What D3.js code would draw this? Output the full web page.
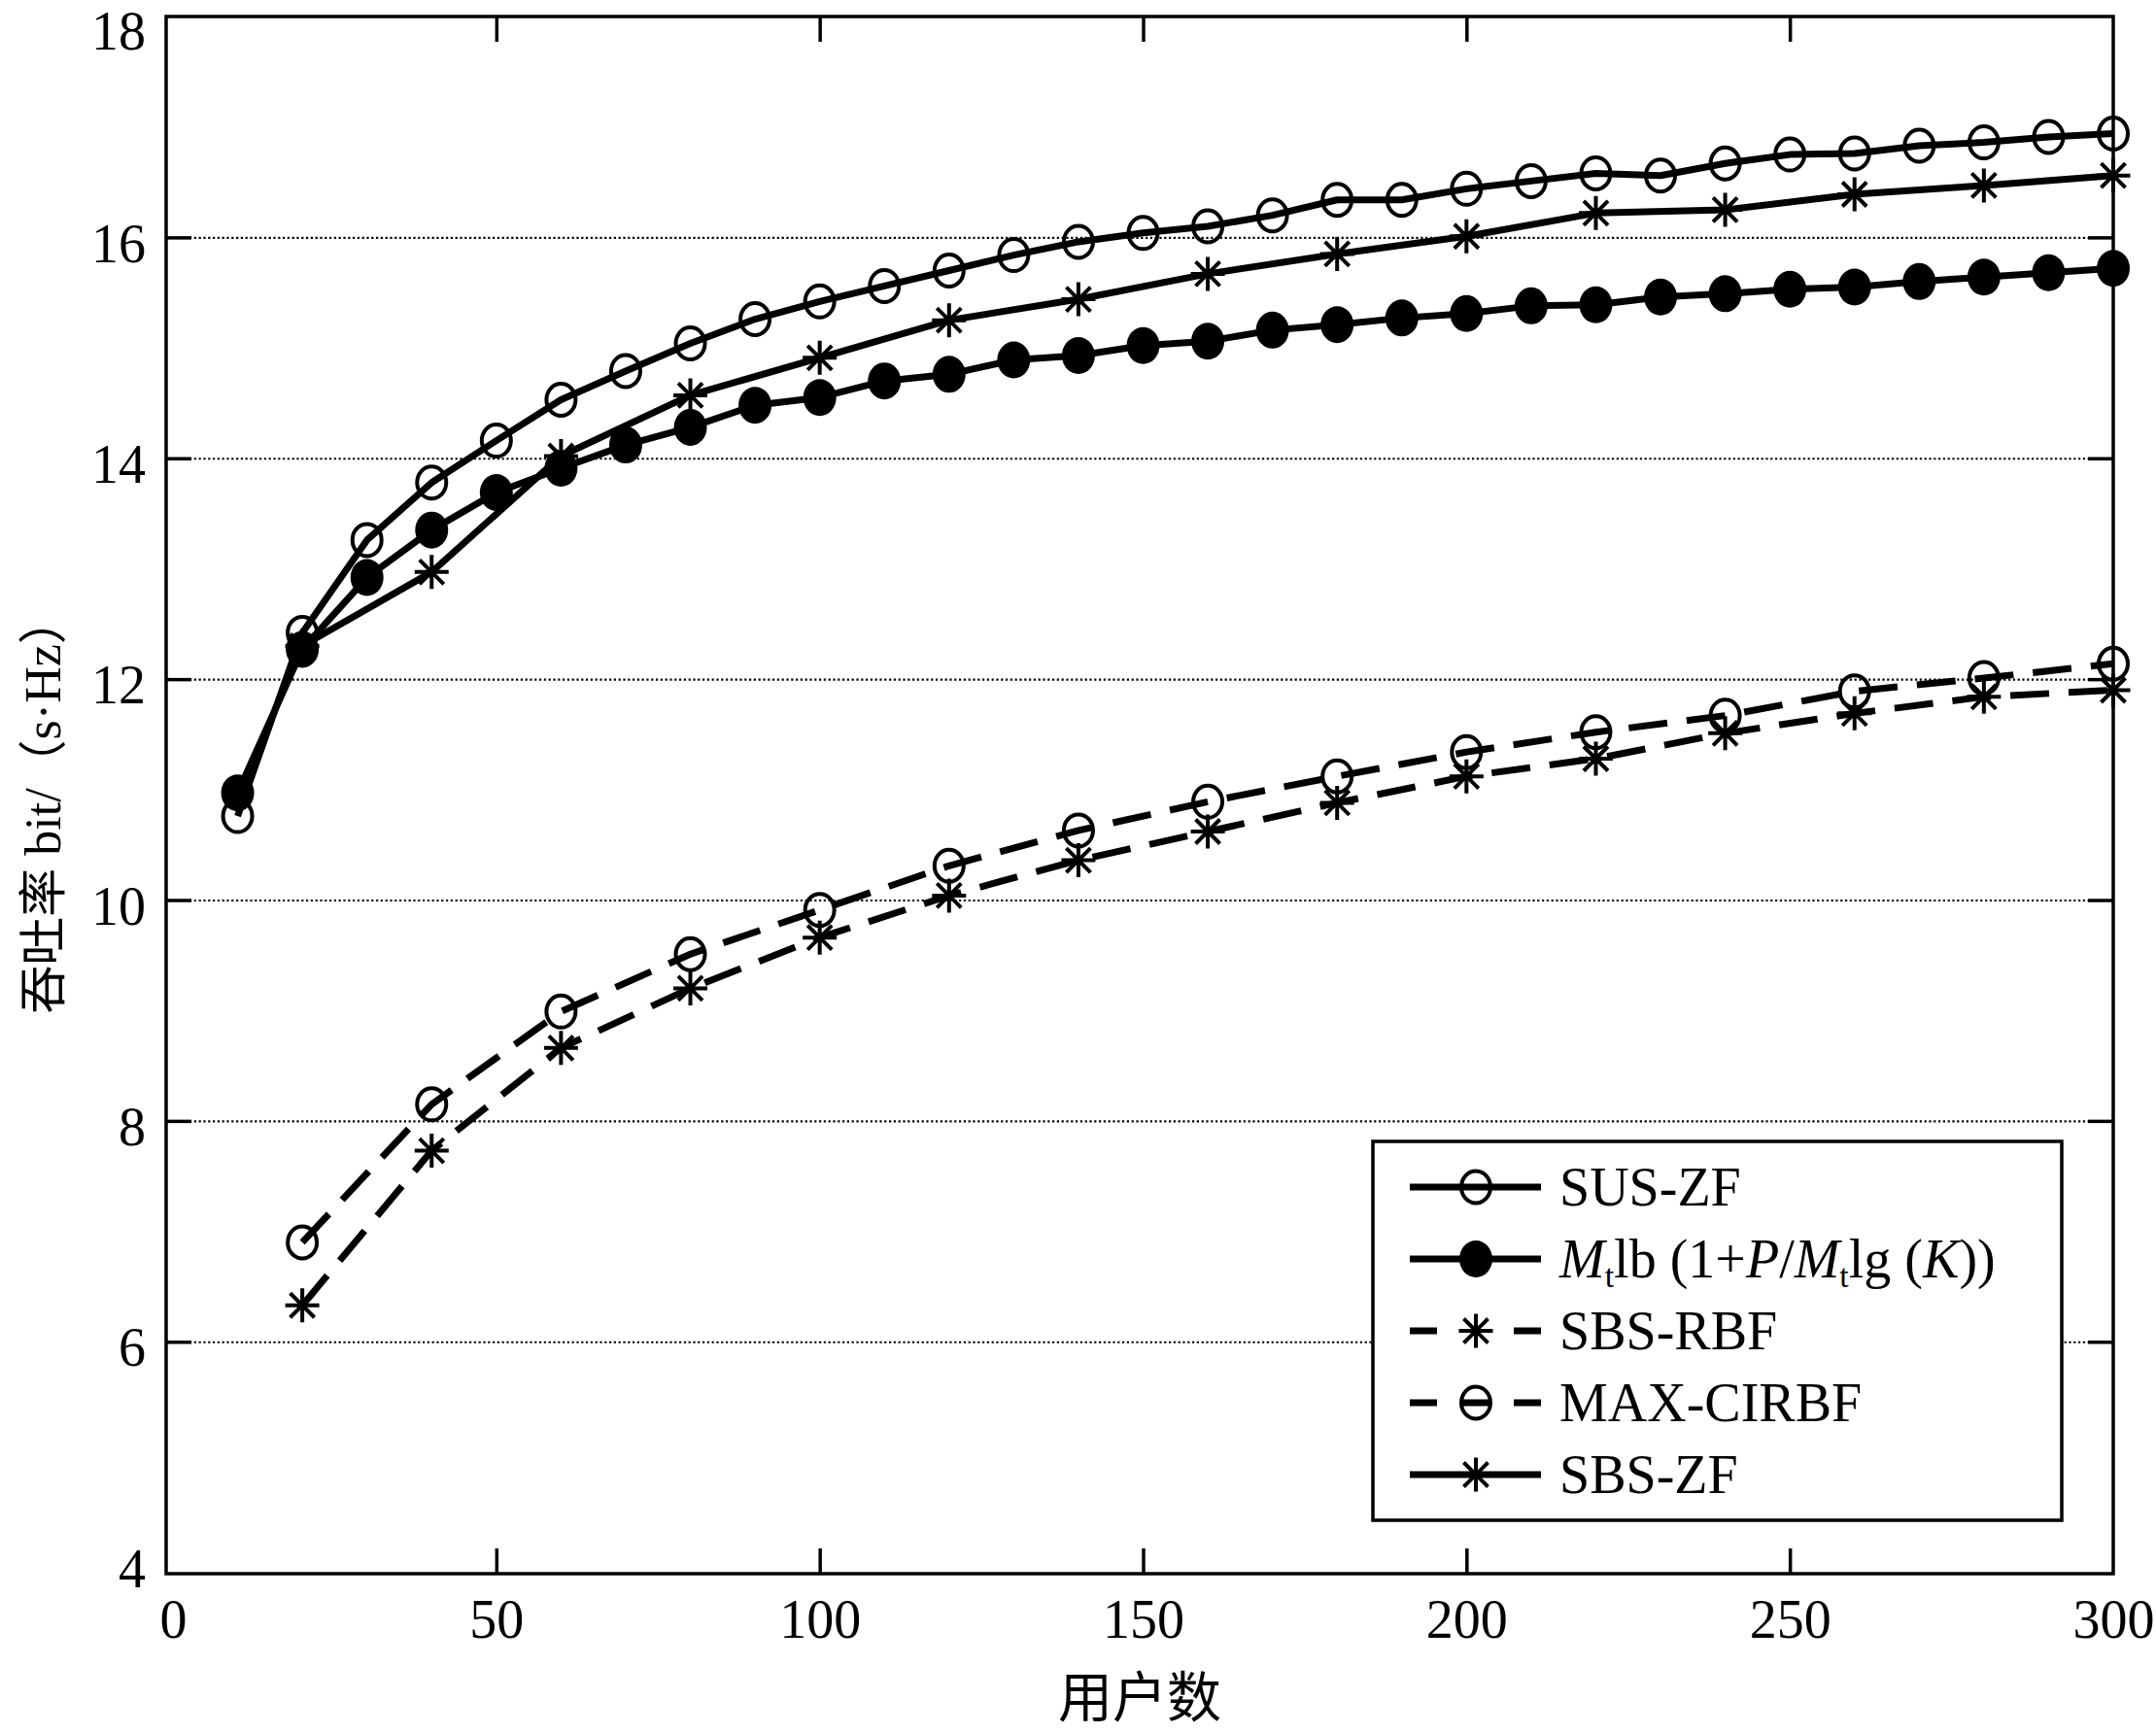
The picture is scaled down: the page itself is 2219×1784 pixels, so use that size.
<!DOCTYPE html>
<html><head><meta charset="utf-8">
<script src="https://cdn.jsdelivr.net/npm/d3@7"></script>
<style>body{margin:0;background:#fff;} svg{display:block;background:#fff}</style>
</head><body>
<svg id="chart" width="2219" height="1784"></svg>
<script>
// ---- data ----
const usersAll = d3.range(10, 301, 10);   // 10..300 step 10
const users20 = d3.range(20, 301, 20);    // 20..300 step 20
const susZF = [10.76, 12.42, 13.26, 13.78, 14.16, 14.53, 14.79, 15.04, 15.26, 15.42,
               15.56, 15.70, 15.84, 15.96, 16.04, 16.10, 16.20, 16.34, 16.34, 16.44,
               16.51, 16.58, 16.56, 16.67, 16.75, 16.76, 16.83, 16.86, 16.91, 16.94];
const bound = [10.97, 12.27, 12.92, 13.35, 13.69, 13.91, 14.12, 14.28, 14.48, 14.55,
               14.70, 14.76, 14.89, 14.93, 15.02, 15.06, 15.16, 15.21, 15.27, 15.31,
               15.38, 15.39, 15.46, 15.49, 15.53, 15.55, 15.60, 15.64, 15.68, 15.72];
const sbsZF = [12.30, 12.97, 14.02, 14.57, 14.91, 15.25, 15.44, 15.67, 15.85, 16.01,
               16.22, 16.25, 16.39, 16.47, 16.56];
const maxCIRBF = [6.90, 8.15, 8.99, 9.51, 9.91, 10.31, 10.63, 10.89, 11.12, 11.34,
                  11.52, 11.67, 11.89, 12.01, 12.14];
const sbsRBF = [6.33, 7.73, 8.66, 9.20, 9.66, 10.04, 10.36, 10.62, 10.88, 11.12,
                11.28, 11.51, 11.69, 11.84, 11.90];
const xTicks = [0, 50, 100, 150, 200, 250, 300];
const yTicks = [4, 6, 8, 10, 12, 14, 16, 18];
const gridTicks = [6, 8, 10, 12, 14, 16];
const xLabel = "用户数";
const legendNames = ["SUS-ZF", "BOUND", "SBS-RBF", "MAX-CIRBF", "SBS-ZF"];

// ---- layout ----
const svg = d3.select("#chart");
const L = 171, R = 2175, T = 17, B = 1620;
const x = d3.scaleLinear().domain([0, 300]).range([178, R]);
const y = d3.scaleLinear().domain([3.9, 18]).range([B, T]);
const serif = "'Liberation Serif','Times New Roman',serif";
const cjk = "'Noto Sans CJK SC','Noto Sans CJK JP',sans-serif";

svg.append("rect").attr("width", 2219).attr("height", 1784).attr("fill", "#fff");

// grid (dotted)
svg.append("g").attr("transform", `translate(${L},0)`)
  .call(d3.axisLeft(y).tickValues(gridTicks).tickSize(-(R - L)).tickFormat(""))
  .call(g => g.select(".domain").remove())
  .call(g => g.selectAll("line").attr("stroke", "#000").attr("stroke-width", 2.2)
      .attr("stroke-dasharray", "2.2,2.6"));

// inward ticks on all four sides
function styleAxis(g) {
  g.select(".domain").remove();
  g.selectAll("line").attr("stroke", "#000").attr("stroke-width", 3.5);
}
svg.append("g").attr("transform", `translate(${L},0)`)
  .call(d3.axisLeft(y).tickValues(yTicks).tickSize(-26).tickPadding(21).tickFormat(d3.format("d")))
  .call(styleAxis)
  .call(g => g.selectAll(".tick").filter(d => d === 4 || d === 18).select("line").remove())
  .call(g => g.selectAll("text").attr("font-family", serif).attr("font-size", 56)
      .attr("fill", "#000").attr("dy", d => d === 18 ? "0.6em" : "0.44em"));
svg.append("g").attr("transform", `translate(${R},0)`)
  .call(d3.axisRight(y).tickValues(gridTicks).tickSize(-26).tickFormat(""))
  .call(styleAxis);
svg.append("g").attr("transform", `translate(0,${B})`)
  .call(d3.axisBottom(x).tickValues(xTicks).tickSize(-26).tickPadding(26).tickFormat(d3.format("d")))
  .call(styleAxis)
  .call(g => g.selectAll(".tick").filter(d => d === 0 || d === 300).select("line").remove())
  .call(g => g.selectAll("text").attr("font-family", serif).attr("font-size", 56).attr("fill", "#000"));
svg.append("g").attr("transform", `translate(0,${T})`)
  .call(d3.axisTop(x).tickValues(xTicks.filter(v => v > 0 && v < 300)).tickSize(-26).tickFormat(""))
  .call(styleAxis);

// frame
svg.append("rect").attr("x", L).attr("y", T).attr("width", R - L).attr("height", B - T)
  .attr("fill", "none").attr("stroke", "#000").attr("stroke-width", 3.5);

// axis labels
svg.append("text").attr("x", (L + R) / 2).attr("y", 1767)
  .attr("text-anchor", "middle").attr("font-family", cjk).attr("font-size", 56)
  .text(xLabel);
const yl = svg.append("text").attr("transform", `translate(62,${(T + B) / 2 + 10}) rotate(-90)`)
  .attr("text-anchor", "middle").attr("font-size", 52).attr("fill", "#000");
yl.append("tspan").attr("font-family", cjk).attr("font-size", 50).text("吞吐率");
yl.append("tspan").attr("font-family", serif).text(" bit/");
yl.append("tspan").attr("font-family", cjk).attr("font-size", 50).text("（");
yl.append("tspan").attr("font-family", serif).text("s·Hz");
yl.append("tspan").attr("font-family", cjk).attr("font-size", 50).text("）");

// markers
function marker(g, type, cx, cy) {
  if (type === "circle") {
    g.append("ellipse").attr("cx", cx).attr("cy", cy).attr("rx", 15).attr("ry", 16.5)
      .attr("fill", "none").attr("stroke", "#000").attr("stroke-width", 4);
  } else if (type === "filled") {
    g.append("ellipse").attr("cx", cx).attr("cy", cy).attr("rx", 17).attr("ry", 19)
      .attr("fill", "#000");
  } else if (type === "star") {
    const a = 17.5, d = 12.5;
    const p = `M${cx - a},${cy}L${cx + a},${cy}M${cx},${cy - a}L${cx},${cy + a}` +
              `M${cx - d},${cy - d}L${cx + d},${cy + d}M${cx - d},${cy + d}L${cx + d},${cy - d}`;
    g.append("path").attr("d", p).attr("stroke", "#000").attr("stroke-width", 4).attr("fill", "none");
  }
}

const series = [
  { xs: users20, ys: sbsRBF, dash: "40,20", mk: "star" },
  { xs: users20, ys: maxCIRBF, dash: "40,20", mk: "circle" },
  { xs: users20, ys: sbsZF, dash: null, mk: "star" },
  { xs: usersAll, ys: bound, dash: null, mk: "filled" },
  { xs: usersAll, ys: susZF, dash: null, mk: "circle" }
];
const line = d3.line().x(d => x(d[0])).y(d => y(d[1]));
const plot = svg.append("g");
series.forEach(s => {
  const pts = s.xs.map((v, i) => [v, s.ys[i]]);
  plot.append("path").attr("d", line(pts)).attr("fill", "none").attr("stroke", "#000")
    .attr("stroke-width", 7).attr("stroke-linejoin", "round")
    .attr("stroke-dasharray", s.dash);
});
series.forEach(s => {
  const g = plot.append("g");
  s.xs.forEach((v, i) => marker(g, s.mk, x(v), y(s.ys[i])));
});

// legend
const lg = svg.append("g");
lg.append("rect").attr("x", 1413).attr("y", 1175).attr("width", 709).attr("height", 390)
  .attr("fill", "#fff").attr("stroke", "#000").attr("stroke-width", 3.5);
const legendItems = [
  { mk: "circle", dash: null },
  { mk: "filled", dash: null },
  { mk: "star", dash: "28,79" },
  { mk: "circle", dash: "28,26,28,25,28" },
  { mk: "star", dash: null }
];
const rowY = [1222, 1296, 1370, 1444, 1518];
legendItems.forEach((it, i) => {
  const cy = rowY[i];
  lg.append("line").attr("x1", 1451).attr("x2", 1586).attr("y1", cy).attr("y2", cy)
    .attr("stroke", "#000").attr("stroke-width", 7).attr("stroke-dasharray", it.dash);
  marker(lg, it.mk, 1519, cy);
  const t = lg.append("text").attr("x", 1605).attr("y", cy + 19)
    .attr("font-family", serif).attr("font-size", 56).attr("fill", "#000");
  if (legendNames[i] === "BOUND") {
    t.append("tspan").attr("font-style", "italic").text("M");
    t.append("tspan").attr("font-size", 34).attr("dy", 10).text("t");
    t.append("tspan").attr("dy", -10).text("lb (1+");
    t.append("tspan").attr("font-style", "italic").text("P");
    t.append("tspan").text("/");
    t.append("tspan").attr("font-style", "italic").text("M");
    t.append("tspan").attr("font-size", 34).attr("dy", 10).text("t");
    t.append("tspan").attr("dy", -10).text("lg (");
    t.append("tspan").attr("font-style", "italic").text("K");
    t.append("tspan").text("))");
  } else {
    t.text(legendNames[i]);
  }
});
</script>
</body></html>
